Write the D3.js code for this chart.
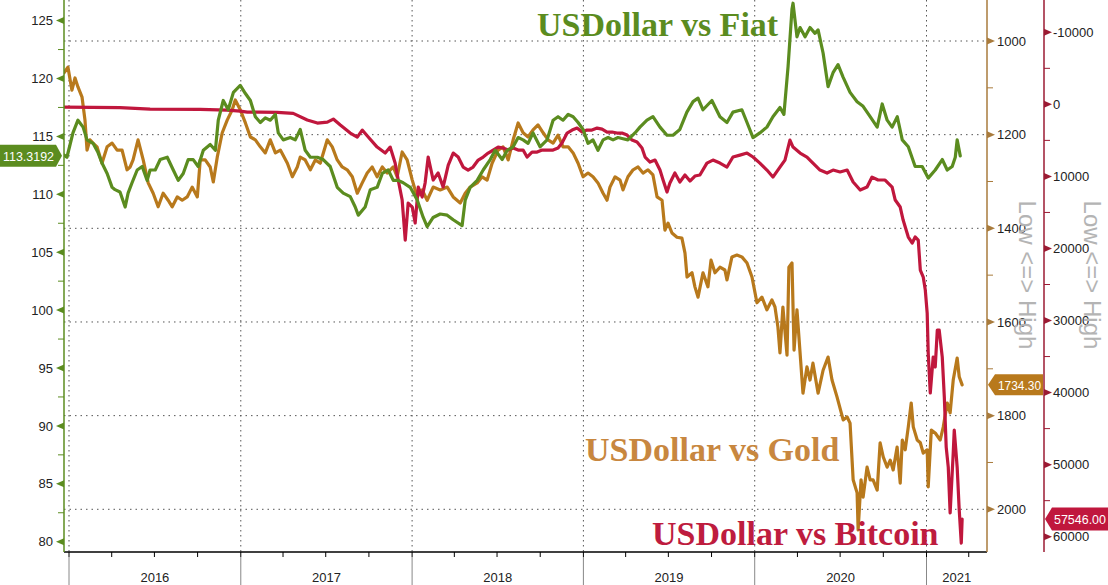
<!DOCTYPE html>
<html><head><meta charset="utf-8">
<script src="https://cdn.jsdelivr.net/npm/d3@7"></script>
<style>body{margin:0;background:#fff}svg{display:block}</style>
</head><body><svg id="c" width="1108" height="585"></svg>
<script>
// ---------- DATA ----------
const yearLabels = ["2016","2017","2018","2019","2020","2021"];
const fiatTicks = [80,85,90,95,100,105,110,115,120,125];
const goldTicks = [1000,1200,1400,1600,1800,2000];
const btcTicks = [-10000,0,10000,20000,30000,40000,50000,60000];
const seriesTitles = ["USDollar vs Fiat","USDollar vs Gold","USDollar vs Bitcoin"];
const axisNote = "Low <=> High";
const lastFiat = 113.3192, lastGold = 1734.30, lastBtc = 57546.00;

// [decimal year, value]
const fiat = [[2015.971,113.4],[2015.988,113.2],[2016.023,115.3],[2016.052,116.4],[2016.082,115.8],[2016.105,114.7],[2016.140,114.4],[2016.169,113.6],[2016.192,112.7],[2016.222,111.8],[2016.251,110.6],[2016.268,110.4],[2016.297,110.2],[2016.327,108.9],[2016.344,110.1],[2016.367,111.0],[2016.397,112.1],[2016.426,112.4],[2016.455,111.2],[2016.472,112.1],[2016.502,112.1],[2016.531,113.0],[2016.572,113.2],[2016.607,112.1],[2016.636,111.2],[2016.665,111.8],[2016.694,113.0],[2016.723,113.0],[2016.752,112.4],[2016.782,113.8],[2016.822,114.3],[2016.852,113.8],[2016.869,116.4],[2016.898,118.1],[2016.927,117.3],[2016.957,118.8],[2016.997,119.4],[2017.027,118.7],[2017.056,118.1],[2017.085,116.7],[2017.114,116.2],[2017.143,116.6],[2017.172,116.4],[2017.202,116.9],[2017.219,115.3],[2017.248,114.7],[2017.289,114.9],[2017.318,114.7],[2017.347,115.6],[2017.376,113.8],[2017.406,113.2],[2017.447,113.2],[2017.481,113.0],[2017.522,112.4],[2017.563,110.6],[2017.598,110.1],[2017.639,109.8],[2017.668,108.9],[2017.686,108.2],[2017.726,108.9],[2017.756,110.4],[2017.796,110.6],[2017.826,111.8],[2017.861,112.1],[2017.890,111.2],[2017.919,111.2],[2017.948,111.0],[2017.989,110.6],[2018.030,109.5],[2018.065,108.0],[2018.088,107.2],[2018.123,108.0],[2018.164,108.3],[2018.205,108.2],[2018.240,107.8],[2018.292,107.3],[2018.310,109.5],[2018.339,110.6],[2018.380,111.2],[2018.415,112.1],[2018.456,113.0],[2018.485,113.8],[2018.526,113.0],[2018.555,113.8],[2018.590,114.1],[2018.619,114.9],[2018.648,114.7],[2018.677,114.4],[2018.706,115.3],[2018.747,114.1],[2018.788,114.7],[2018.823,116.4],[2018.852,116.7],[2018.881,116.4],[2018.911,116.9],[2018.940,116.7],[2018.969,116.2],[2018.998,115.6],[2019.027,114.4],[2019.056,114.7],[2019.085,113.8],[2019.115,114.7],[2019.144,114.9],[2019.173,114.7],[2019.202,114.9],[2019.231,114.8],[2019.260,114.7],[2019.301,115.3],[2019.330,115.8],[2019.371,116.4],[2019.406,116.7],[2019.447,115.8],[2019.488,115.1],[2019.523,115.1],[2019.563,115.6],[2019.604,117.1],[2019.640,118.0],[2019.669,118.3],[2019.698,117.3],[2019.750,118.1],[2019.797,116.7],[2019.838,116.2],[2019.873,117.1],[2019.925,117.3],[2019.955,116.2],[2019.990,114.9],[2020.030,115.3],[2020.071,115.8],[2020.106,116.7],[2020.147,117.5],[2020.170,116.9],[2020.194,121.0],[2020.217,126.0],[2020.223,126.5],[2020.246,123.6],[2020.264,124.4],[2020.293,123.6],[2020.322,124.4],[2020.351,123.9],[2020.369,124.2],[2020.398,122.2],[2020.427,119.3],[2020.456,120.5],[2020.485,121.2],[2020.515,120.1],[2020.555,118.8],[2020.596,118.0],[2020.631,117.6],[2020.672,116.7],[2020.713,115.8],[2020.742,117.8],[2020.771,116.4],[2020.800,115.8],[2020.830,116.7],[2020.859,114.7],[2020.894,114.1],[2020.934,112.4],[2020.975,112.4],[2021.010,111.4],[2021.051,112.1],[2021.092,113.0],[2021.121,112.1],[2021.150,112.4],[2021.168,113.2],[2021.179,114.7],[2021.197,113.3192]];

const gold = [[2015.971,1068],[2015.994,1056],[2016.017,1105],[2016.035,1079],[2016.052,1098],[2016.076,1120],[2016.093,1169],[2016.105,1233],[2016.122,1211],[2016.140,1218],[2016.163,1226],[2016.192,1261],[2016.222,1226],[2016.251,1218],[2016.280,1233],[2016.309,1233],[2016.338,1275],[2016.356,1269],[2016.373,1254],[2016.402,1211],[2016.432,1254],[2016.461,1303],[2016.490,1325],[2016.519,1354],[2016.548,1325],[2016.577,1340],[2016.601,1354],[2016.630,1333],[2016.659,1340],[2016.688,1333],[2016.717,1312],[2016.747,1333],[2016.764,1254],[2016.793,1254],[2016.822,1269],[2016.840,1301],[2016.863,1248],[2016.892,1196],[2016.921,1169],[2016.950,1147],[2016.968,1126],[2016.997,1147],[2017.027,1175],[2017.056,1205],[2017.085,1211],[2017.114,1226],[2017.143,1239],[2017.172,1211],[2017.202,1239],[2017.231,1233],[2017.272,1261],[2017.301,1290],[2017.330,1269],[2017.347,1248],[2017.376,1254],[2017.406,1275],[2017.435,1254],[2017.464,1261],[2017.505,1211],[2017.534,1226],[2017.563,1254],[2017.592,1269],[2017.621,1275],[2017.651,1290],[2017.680,1325],[2017.709,1303],[2017.738,1282],[2017.767,1269],[2017.796,1290],[2017.826,1269],[2017.855,1282],[2017.890,1269],[2017.913,1290],[2017.942,1237],[2017.971,1254],[2018.001,1297],[2018.030,1333],[2018.059,1318],[2018.088,1340],[2018.123,1312],[2018.164,1318],[2018.205,1312],[2018.240,1333],[2018.281,1346],[2018.310,1325],[2018.339,1312],[2018.380,1303],[2018.409,1290],[2018.438,1297],[2018.467,1261],[2018.502,1233],[2018.531,1226],[2018.561,1254],[2018.590,1211],[2018.619,1175],[2018.648,1196],[2018.677,1205],[2018.706,1190],[2018.735,1179],[2018.765,1196],[2018.794,1211],[2018.823,1218],[2018.852,1201],[2018.881,1226],[2018.911,1226],[2018.940,1239],[2018.969,1261],[2018.998,1290],[2019.027,1282],[2019.056,1290],[2019.085,1303],[2019.115,1325],[2019.138,1340],[2019.155,1312],[2019.185,1290],[2019.214,1297],[2019.231,1318],[2019.260,1290],[2019.290,1275],[2019.319,1269],[2019.348,1282],[2019.377,1275],[2019.406,1286],[2019.430,1333],[2019.459,1340],[2019.476,1404],[2019.494,1389],[2019.517,1410],[2019.546,1419],[2019.575,1421],[2019.593,1453],[2019.605,1504],[2019.634,1495],[2019.651,1525],[2019.669,1547],[2019.698,1495],[2019.727,1525],[2019.745,1468],[2019.768,1495],[2019.797,1483],[2019.826,1489],[2019.838,1510],[2019.867,1461],[2019.896,1457],[2019.925,1461],[2019.955,1474],[2019.984,1504],[2020.013,1559],[2020.042,1547],[2020.071,1574],[2020.100,1553],[2020.118,1568],[2020.135,1611],[2020.147,1666],[2020.164,1568],[2020.188,1671],[2020.199,1483],[2020.217,1474],[2020.229,1660],[2020.246,1574],[2020.264,1666],[2020.281,1752],[2020.304,1696],[2020.322,1724],[2020.339,1688],[2020.369,1752],[2020.398,1703],[2020.427,1675],[2020.450,1724],[2020.479,1760],[2020.515,1809],[2020.538,1803],[2020.555,1816],[2020.573,1937],[2020.596,1965],[2020.602,2044],[2020.619,1937],[2020.631,1974],[2020.654,1910],[2020.672,1937],[2020.689,1937],[2020.713,1959],[2020.730,1858],[2020.748,1888],[2020.771,1910],[2020.789,1895],[2020.806,1916],[2020.829,1867],[2020.847,1944],[2020.859,1852],[2020.876,1873],[2020.894,1824],[2020.911,1773],[2020.923,1824],[2020.946,1852],[2020.964,1858],[2020.981,1880],[2021.004,1873],[2021.010,1952],[2021.028,1831],[2021.051,1837],[2021.080,1852],[2021.098,1824],[2021.121,1773],[2021.138,1794],[2021.156,1724],[2021.179,1677],[2021.191,1717],[2021.208,1734.3]];

const bitcoin = [[2015.971,380],[2016.297,450],[2016.472,650],[2016.764,700],[2016.921,790],[2016.997,930],[2017.038,1070],[2017.114,1070],[2017.213,1100],[2017.306,1250],[2017.388,2180],[2017.447,2600],[2017.505,2460],[2017.540,2040],[2017.581,2870],[2017.639,3980],[2017.680,4540],[2017.709,3570],[2017.744,4540],[2017.796,5930],[2017.843,6760],[2017.872,5930],[2017.901,8150],[2017.919,10500],[2017.942,13280],[2017.960,18830],[2017.977,13700],[2018.001,14250],[2018.018,16470],[2018.036,11480],[2018.059,12860],[2018.076,10920],[2018.094,7310],[2018.123,10500],[2018.152,9530],[2018.181,11480],[2018.211,8420],[2018.240,6760],[2018.269,7310],[2018.298,8700],[2018.327,9120],[2018.356,8700],[2018.386,7730],[2018.415,7310],[2018.444,6760],[2018.473,6340],[2018.502,5930],[2018.531,6060],[2018.561,6340],[2018.590,6060],[2018.619,6340],[2018.648,6340],[2018.671,7310],[2018.700,6620],[2018.730,6620],[2018.759,6340],[2018.788,6340],[2018.823,6340],[2018.852,6060],[2018.875,5370],[2018.905,3980],[2018.934,3570],[2018.963,3290],[2018.992,3840],[2019.021,3570],[2019.050,3570],[2019.080,3290],[2019.109,3430],[2019.138,3840],[2019.167,3840],[2019.196,3980],[2019.225,3980],[2019.255,4260],[2019.284,4950],[2019.313,5230],[2019.342,6060],[2019.360,7310],[2019.389,8010],[2019.418,7730],[2019.447,9120],[2019.465,10500],[2019.488,12170],[2019.505,10920],[2019.534,9530],[2019.563,10780],[2019.593,9810],[2019.622,10640],[2019.651,9950],[2019.680,9810],[2019.721,8150],[2019.756,7730],[2019.797,8150],[2019.838,8700],[2019.873,7310],[2019.914,7040],[2019.955,6760],[2019.990,7310],[2020.030,8150],[2020.071,9120],[2020.106,10090],[2020.147,8700],[2020.176,7730],[2020.205,4950],[2020.223,5930],[2020.264,6760],[2020.304,7310],[2020.339,8150],[2020.380,9120],[2020.421,9530],[2020.456,9120],[2020.497,9390],[2020.538,9120],[2020.573,10780],[2020.614,11890],[2020.654,11480],[2020.683,10090],[2020.718,10500],[2020.759,10500],[2020.800,11480],[2020.818,13280],[2020.847,14250],[2020.864,16060],[2020.894,18410],[2020.917,19250],[2020.934,18410],[2020.952,18830],[2020.964,23000],[2020.981,23970],[2020.993,25780],[2021.004,28970],[2021.010,34510],[2021.022,40060],[2021.039,35070],[2021.051,36450],[2021.063,31320],[2021.074,31320],[2021.092,35070],[2021.104,40610],[2021.115,47560],[2021.127,50340],[2021.138,56710],[2021.156,48390],[2021.162,45200],[2021.179,50340],[2021.191,56300],[2021.203,60880],[2021.208,57546]];

// ---------- SETUP ----------
const W = 1108, H = 585;
const L = 64, R = 987, B = 552, T = 0;
const cGreen = "#5b8c1f", cGold = "#b8791c", cRed = "#c0173d";
const svg = d3.select("#c");
const font = "'Liberation Sans', Arial, sans-serif";

function toDate(t){const y=Math.floor(t);const s=Date.UTC(y,0,1),e=Date.UTC(y+1,0,1);return new Date(s+(t-y)*(e-s));}

const x = d3.scaleUtc().domain([new Date(Date.UTC(2016,0,1)), new Date(Date.UTC(2021,0,1))]).range([69, 926.5]);
const yF = d3.scaleLinear().domain([80,125]).range([541.7, 20.6]);
const yG = d3.scaleLinear().domain([1000,2000]).range([41, 509.3]);
const yB = d3.scaleLinear().domain([-10000,60000]).range([32.3, 536.7]);
const xMax = x.invert(R);

// ---------- GRID ----------
const grid = svg.append("g");
goldTicks.forEach(v=>{
  grid.append("line").attr("x1",L).attr("x2",R).attr("y1",yG(v)).attr("y2",yG(v))
    .attr("stroke","#555").attr("stroke-width",1).attr("stroke-dasharray","1.5,4");
});
const years = d3.utcYear.range(new Date(Date.UTC(2016,0,1)), xMax);
years.forEach(d=>{
  grid.append("line").attr("x1",x(d)).attr("x2",x(d)).attr("y1",T).attr("y2",B)
    .attr("stroke","#555").attr("stroke-width",1).attr("stroke-dasharray","1.5,3.5");
});

// ---------- LINES ----------
svg.append("defs").append("clipPath").attr("id","clip").append("rect")
  .attr("x",L).attr("y",T).attr("width",R-L).attr("height",B-T);
const lines = svg.append("g").attr("clip-path","url(#clip)");
function draw(data, ys, color){
  lines.append("path").datum(data)
    .attr("d", d3.line().x(d=>x(toDate(d[0]))).y(d=>ys(d[1])))
    .attr("fill","none").attr("stroke",color).attr("stroke-width",3.2)
    .attr("stroke-linejoin","round").attr("stroke-linecap","round");
}
draw(gold, yG, cGold);
draw(bitcoin, yB, cRed);
draw(fiat, yF, cGreen);

// ---------- X AXIS ----------
const xa = svg.append("g");
xa.append("line").attr("x1",L).attr("x2",R).attr("y1",B).attr("y2",B).attr("stroke","#000").attr("stroke-width",1.5);
d3.utcMonth.every(3).range(new Date(Date.UTC(2016,0,1)), xMax).forEach(d=>{
  xa.append("line").attr("x1",x(d)).attr("x2",x(d)).attr("y1",B).attr("y2",B+5).attr("stroke","#000").attr("stroke-width",1);
  if (d.getUTCMonth()===0) {
    xa.append("line").attr("x1",x(d)).attr("x2",x(d)).attr("y1",B+5).attr("y2",H).attr("stroke","#888").attr("stroke-width",1);
  }
});
yearLabels.forEach(lab=>{
  const s = x(new Date(Date.UTC(+lab,0,1)));
  const e = Math.min(R, x(new Date(Date.UTC(+lab+1,0,1))));
  xa.append("text").attr("x",(s+e)/2).attr("y",582).attr("text-anchor","middle")
    .attr("font-family",font).attr("font-size",13).attr("fill","#222").text(lab);
});

// ---------- LEFT AXIS (Fiat) ----------
const la = svg.append("g");
la.append("line").attr("x1",L).attr("x2",L).attr("y1",T).attr("y2",B).attr("stroke",cGreen).attr("stroke-width",1.5);
d3.range(82.5,125,5).forEach(v=>{
  la.append("line").attr("x1",L-6).attr("x2",L).attr("y1",yF(v)).attr("y2",yF(v)).attr("stroke",cGreen).attr("stroke-width",1);
});
fiatTicks.forEach(v=>{
  const y=yF(v);
  la.append("path").attr("d",`M${L},${y-3.5}L${L-8},${y}L${L},${y+3.5}Z`).attr("fill",cGreen);
  la.append("text").attr("x",L-11).attr("y",y).attr("dy","0.36em").attr("text-anchor","end")
    .attr("font-family",font).attr("font-size",13).attr("fill","#222").text(v);
});
{
  const y=yF(lastFiat);
  la.append("path").attr("d",`M0,${y-11}L56,${y-11}L62,${y}L56,${y+11}L0,${y+11}Z`).attr("fill",cGreen);
  la.append("text").attr("x",3).attr("y",y).attr("dy","0.36em").attr("font-family",font)
    .attr("font-size",13).attr("fill","#fff").attr("textLength",51).attr("lengthAdjust","spacingAndGlyphs")
    .text(d3.format(".4f")(lastFiat));
}

// ---------- GOLD AXIS ----------
const ga = svg.append("g"), gAx = R, cGoldAx = "#a97b3c";
ga.append("line").attr("x1",gAx).attr("x2",gAx).attr("y1",T).attr("y2",B).attr("stroke",cGoldAx).attr("stroke-width",1.5);
d3.range(1100,2100,200).forEach(v=>{
  ga.append("line").attr("x1",gAx).attr("x2",gAx+6).attr("y1",yG(v)).attr("y2",yG(v)).attr("stroke",cGoldAx);
});
goldTicks.forEach(v=>{
  const y=yG(v);
  ga.append("path").attr("d",`M${gAx},${y-3.5}L${gAx+8},${y}L${gAx},${y+3.5}Z`).attr("fill",cGoldAx);
  ga.append("text").attr("x",gAx+10).attr("y",y).attr("dy","0.36em")
    .attr("font-family",font).attr("font-size",13).attr("fill","#222").text(v);
});

// ---------- BITCOIN AXIS ----------
const ba = svg.append("g"), bAx = 1044, cRedAx = "#9b1b33";
ba.append("line").attr("x1",bAx).attr("x2",bAx).attr("y1",T).attr("y2",B).attr("stroke",cRedAx).attr("stroke-width",1.5);
d3.range(-5000,65000,10000).forEach(v=>{
  ba.append("line").attr("x1",bAx).attr("x2",bAx+6).attr("y1",yB(v)).attr("y2",yB(v)).attr("stroke",cRedAx);
});
btcTicks.forEach(v=>{
  const y=yB(v);
  ba.append("path").attr("d",`M${bAx},${y-3.5}L${bAx+8},${y}L${bAx},${y+3.5}Z`).attr("fill",cRedAx);
  ba.append("text").attr("x",bAx+9).attr("y",y).attr("dy","0.36em")
    .attr("font-family",font).attr("font-size",13).attr("fill","#222").text(String(v));
});

// "Low <=> High" notes
[1027,1092].forEach(cx=>{
  svg.append("text").attr("transform",`translate(${cx},275) rotate(90)`).attr("text-anchor","middle")
    .attr("dy","0.35em").attr("font-family",font).attr("font-size",24).attr("fill","#b4b4b4").text(axisNote);
});

// value callouts
{
  const y=yG(lastGold);
  ga.append("path").attr("d",`M${gAx+1},${y}L${gAx+8},${y-10.5}L1043,${y-10.5}L1043,${y+10.5}L${gAx+8},${y+10.5}Z`).attr("fill",cGold);
  ga.append("text").attr("x",gAx+11).attr("y",y).attr("dy","0.36em").attr("font-family",font)
    .attr("font-size",13).attr("fill","#fff").attr("textLength",43).attr("lengthAdjust","spacingAndGlyphs")
    .text(d3.format(".2f")(lastGold));
}
{
  const y=yB(lastBtc);
  ba.append("path").attr("d",`M${bAx+1},${y}L${bAx+8},${y-11.5}L${W},${y-11.5}L${W},${y+11.5}L${bAx+8},${y+11.5}Z`).attr("fill",cRed);
  ba.append("text").attr("x",bAx+10).attr("y",y).attr("dy","0.36em").attr("font-family",font)
    .attr("font-size",13).attr("fill","#fff").attr("textLength",52).attr("lengthAdjust","spacingAndGlyphs")
    .text(d3.format(".2f")(lastBtc));
}

// ---------- SERIES TITLES ----------
const serif = "'Liberation Serif', 'Times New Roman', serif";
[[seriesTitles[0],537,36,"#5b8c1f"],[seriesTitles[1],585,461,"#c8873f"],[seriesTitles[2],652,545,"#be1c3e"]].forEach(([t,tx,ty,c])=>{
  svg.append("text").attr("x",tx).attr("y",ty).attr("font-family",serif).attr("font-weight","bold")
    .attr("font-size",34).attr("fill",c).text(t);
});
</script>
</body></html>
